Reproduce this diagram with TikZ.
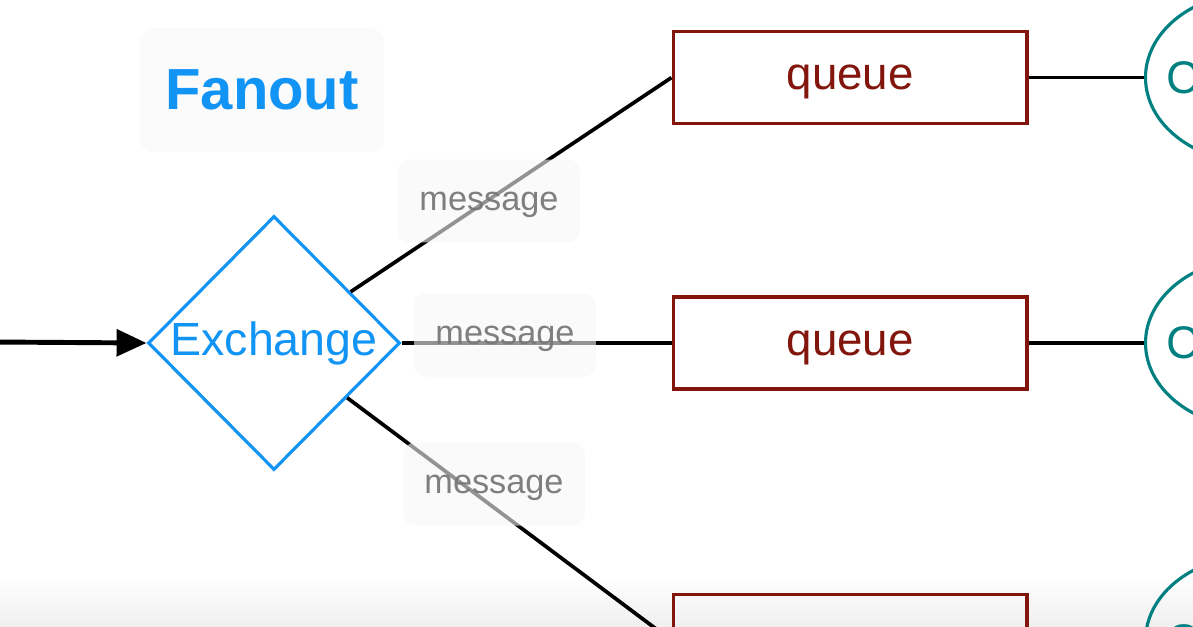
\documentclass[tikz,border=0pt]{standalone}
\usepackage{fontspec}
\setsansfont{Liberation Sans}
\renewcommand{\familydefault}{\sfdefault}
\usetikzlibrary{shapes.geometric, arrows.meta, positioning}
\definecolor{fanblue}{RGB}{18, 148, 245}
\definecolor{queuered}{RGB}{130, 22, 12}
\definecolor{consteal}{RGB}{0, 128, 128}
\definecolor{msggray}{RGB}{120, 120, 120}

\begin{document}
\begin{tikzpicture}[x=0.02cm, y=-0.02cm,
            title/.style={fill=gray!3, rounded corners=8pt, minimum width=4.9cm, minimum height=2.48cm, text=fanblue, font=\fontsize{33}{38}\selectfont\bfseries},
            exch/.style={diamond, draw=fanblue, line width=1.8pt, minimum width=5.04cm, minimum height=5.08cm, inner sep=0pt, text=fanblue, font=\fontsize{26.5}{30}\selectfont},
            queuebox/.style={draw=queuered, line width=2pt, minimum width=7.08cm, minimum height=1.84cm, text depth=0pt, text=queuered, font=\fontsize{26}{30}\selectfont},
            consumer/.style={ellipse, draw=consteal, line width=1.8pt, minimum width=4.4cm, minimum height=3.4cm},
            ctext/.style={text=consteal, inner sep=0pt, font=\fontsize{26}{30}\selectfont},
            msg/.style={fill=gray!7, fill opacity=0.6, text opacity=0.95, text=msggray, rounded corners=6.8pt, minimum width=3.64cm, minimum height=1.66cm, text depth=0pt, font=\fontsize{19.5}{22}\selectfont},
            link/.style={draw=black, line width=2.1pt}
        ]
            \useasboundingbox (0,0) rectangle (1193,626);
            \clip (0,0) rectangle (1193,626);
            \shade[top color=white, bottom color=gray!12] (0,575) rectangle (1193,626);

            \node[title] (fanout) at (262,90) {Fanout};
            \node[exch] (exch) at (274,343) {Exchange};

            % queues
            \node[queuebox, right=5.4cm of exch] (q2) {queue};
            \node[queuebox, above=3.4cm of q2] (q1) {queue};
            \node[queuebox, below=4.04cm of q2] (q3) {};

            % consumers
            \node[consumer, right=2.3cm of q1] (c1) {};
            \node[consumer, right=2.3cm of q2] (c2) {};
            \node[consumer, right=2.3cm of q3] (c3) {};
            \node[ctext, right=0.44cm of c1.west] (c1t) {C};
            \node[ctext, right=0.44cm of c2.west] (c2t) {C};
            \node[ctext, right=0.44cm of c3.west] (c3t) {C};

            \coordinate (src) at (-5,342);
            \draw[-{Triangle[length=17pt, width=15pt]}, line width=2.8pt] (src) -- (exch.west);
            \draw[link] (exch) -- (q1.west);
            \draw[link] (exch.east) -- (q2.west);
            \draw[link] (exch) -- (q3.west);
            \draw[link] (q1.east) -- (c1.west);
            \draw[link] (q2.east) -- (c2.west);
            \draw[link] (q3.east) -- (c3.west);

            % labels over the links
            \node[msg] (m1) at (489,201) {message};
            \node[msg] (m2) at (505,335) {message};
            \node[msg] (m3) at (494,484) {message};
        \end{tikzpicture}
\end{document}
